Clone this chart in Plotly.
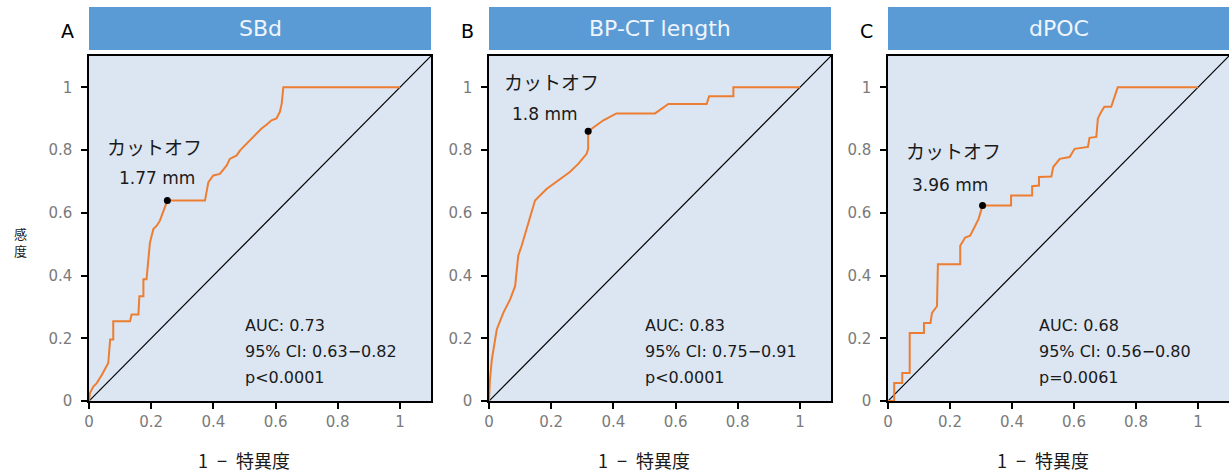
import plotly.graph_objects as go

# ---- data ----
panel_letters = ["A", "B", "C"]
panel_titles = ["SBd", "BP-CT length", "dPOC"]

fpr_a = [0, 0.003, 0.014, 0.025, 0.041, 0.051, 0.062, 0.068, 0.078, 0.078, 0.132, 0.137, 0.159, 0.162, 0.175, 0.175,
         0.185, 0.196, 0.207, 0.218, 0.228, 0.252, 0.373, 0.384, 0.400, 0.421, 0.443, 0.453, 0.475, 0.486, 0.507,
         0.523, 0.539, 0.555, 0.571, 0.587, 0.603, 0.614, 0.620, 0.625, 1.0]
tpr_a = [0, 0.025, 0.046, 0.057, 0.083, 0.099, 0.121, 0.196, 0.196, 0.254, 0.254, 0.276, 0.276, 0.334, 0.334, 0.388,
         0.388, 0.505, 0.548, 0.559, 0.575, 0.639, 0.639, 0.698, 0.719, 0.724, 0.751, 0.772, 0.783, 0.799, 0.821,
         0.837, 0.853, 0.869, 0.881, 0.895, 0.901, 0.922, 0.949, 1.0, 1.0]

fpr_b = [0, 0.001, 0.003, 0.009, 0.025, 0.046, 0.068, 0.084, 0.094, 0.105, 0.121, 0.148, 0.185, 0.228, 0.260, 0.287,
         0.314, 0.319, 0.319, 0.368, 0.410, 0.534, 0.577, 0.700, 0.708, 0.786, 0.786, 1.0]
tpr_b = [0, 0.057, 0.067, 0.131, 0.228, 0.281, 0.324, 0.366, 0.463, 0.495, 0.548, 0.639, 0.676, 0.708, 0.730, 0.756,
         0.788, 0.804, 0.860, 0.895, 0.917, 0.917, 0.947, 0.947, 0.972, 0.972, 1.0, 1.0]

fpr_c = [0, 0.020, 0.020, 0.046, 0.046, 0.070, 0.070, 0.116, 0.116, 0.137, 0.142, 0.158, 0.161, 0.233, 0.233, 0.249,
         0.265, 0.281, 0.292, 0.305, 0.397, 0.397, 0.465, 0.465, 0.487, 0.487, 0.527, 0.533, 0.554, 0.586, 0.602,
         0.645, 0.650, 0.672, 0.677, 0.688, 0.698, 0.720, 0.741, 1.0]
tpr_c = [0, 0.0, 0.057, 0.057, 0.089, 0.089, 0.217, 0.217, 0.249, 0.249, 0.281, 0.302, 0.436, 0.436, 0.495, 0.521,
         0.527, 0.559, 0.580, 0.623, 0.623, 0.655, 0.655, 0.685, 0.687, 0.714, 0.716, 0.746, 0.772, 0.778, 0.804,
         0.810, 0.839, 0.842, 0.901, 0.922, 0.938, 0.938, 1.0, 1.0]

cutoff_fpr = [0.252, 0.319, 0.305]
cutoff_tpr = [0.639, 0.860, 0.623]
cutoff_labels = ["1.77 mm", "1.8 mm", "3.96 mm"]
auc_text = ["AUC: 0.73", "AUC: 0.83", "AUC: 0.68"]
ci_text = ["95% CI: 0.63−0.82", "95% CI: 0.75−0.91", "95% CI: 0.56−0.80"]
p_text = ["p<0.0001", "p<0.0001", "p=0.0061"]

tick_vals = [0, 0.2, 0.4, 0.6, 0.8, 1]
tick_text = ["0", "0.2", "0.4", "0.6", "0.8", "1"]

# ---- layout geometry ----
W, H = 1229, 472
px_left = [89, 489, 888]
px_w = 342
ydom = [(H - 401) / H, (H - 56) / H]

ORANGE = "#ED7D31"
BG = "#DCE6F2"
BAR = "#5B9BD5"
LATIN = "DejaVu Sans, sans-serif"
JP = "Noto Sans CJK JP, sans-serif"

fig = go.Figure()
layout = dict(width=W, height=H, margin=dict(l=0, r=0, t=0, b=0, autoexpand=False),
              paper_bgcolor="white", showlegend=False, shapes=[], annotations=[])

fprs = [fpr_a, fpr_b, fpr_c]
tprs = [tpr_a, tpr_b, tpr_c]
cut_label_pos = [((0.21, 0.81), (0.22, 0.71)), ((0.20, 1.02), (0.18, 0.915)), ((0.21, 0.80), (0.20, 0.69))]
stat_x = [0.495, 0.495, 0.48]

for i in range(3):
    sfx = "" if i == 0 else str(i + 1)
    xa, ya = "x" + sfx, "y" + sfx
    x0 = px_left[i] / W
    x1 = min((px_left[i] + px_w) / W, 1.0)
    common = dict(range=[0, 1.1], tickvals=tick_vals, ticktext=tick_text, ticks="outside", ticklen=6,
                  tickcolor="black", tickwidth=1.5, showline=True, linecolor="black",
                  linewidth=1.5, mirror=True, showgrid=False, zeroline=False, automargin=False,
                  tickfont=dict(family=LATIN, size=15, color="#7a7a7a"))
    layout["xaxis" + sfx] = dict(domain=[x0, x1], anchor=ya, **common)
    layout["yaxis" + sfx] = dict(domain=ydom, anchor=xa, ticklabelstandoff=6, **common)
    # plot background
    layout["shapes"].append(dict(type="rect", xref=xa + " domain", yref=ya + " domain",
                                 x0=0, x1=1, y0=0, y1=1, fillcolor=BG, line=dict(width=0), layer="below"))
    # title bar
    layout["shapes"].append(dict(type="rect", xref="paper", yref="paper", x0=x0, x1=x1,
                                 y0=(H - 50) / H, y1=(H - 7) / H, fillcolor=BAR, line=dict(width=0)))
    layout["annotations"].append(dict(text=panel_titles[i], xref="paper", yref="paper",
                                      x=(x0 + x1) / 2, y=(H - 29) / H, showarrow=False,
                                      font=dict(family=LATIN, size=22, color="#EEF5FC"),
                                      xanchor="center", yanchor="middle"))
    layout["annotations"].append(dict(text=panel_letters[i], xref="paper", yref="paper",
                                      x=(px_left[i] - 22) / W, y=(H - 31) / H, showarrow=False,
                                      font=dict(family=LATIN, size=19, color="black"),
                                      xanchor="center", yanchor="middle"))
    # diagonal
    fig.add_trace(go.Scatter(x=[0, 1.1], y=[0, 1.1], mode="lines", xaxis=xa, yaxis=ya,
                             line=dict(color="black", width=1.2), hoverinfo="skip"))
    # ROC
    fig.add_trace(go.Scatter(x=fprs[i], y=tprs[i], mode="lines", xaxis=xa, yaxis=ya,
                             line=dict(color=ORANGE, width=2)))
    # cutoff point
    fig.add_trace(go.Scatter(x=[cutoff_fpr[i]], y=[cutoff_tpr[i]], mode="markers", xaxis=xa, yaxis=ya,
                             marker=dict(color="black", size=7)))
    (cx1, cy1), (cx2, cy2) = cut_label_pos[i]
    layout["annotations"].append(dict(text="カットオフ", xref=xa, yref=ya, x=cx1, y=cy1, showarrow=False,
                                      font=dict(family=JP, size=19, color="#1a1a1a"),
                                      xanchor="center", yanchor="middle"))
    layout["annotations"].append(dict(text=cutoff_labels[i], xref=xa, yref=ya, x=cx2, y=cy2, showarrow=False,
                                      font=dict(family=LATIN, size=17, color="#1a1a1a"),
                                      xanchor="center", yanchor="middle"))
    for k, t in enumerate([auc_text[i], ci_text[i], p_text[i]]):
        layout["annotations"].append(dict(text=t, xref=xa, yref=ya, x=stat_x[i], y=0.24 - k * 0.083,
                                          showarrow=False, font=dict(family=LATIN, size=16, color="#1a1a1a"),
                                          xanchor="left", yanchor="middle"))
    # x axis title
    layout["annotations"].append(dict(text="1\u2002−\u2002特異度", xref=xa, yref="paper", x=0.5, y=(H - 460) / H,
                                      showarrow=False, font=dict(family=JP, size=18, color="#1a1a1a"),
                                      xanchor="center", yanchor="middle"))

# y axis title (stacked vertical)
layout["annotations"].append(dict(text="感<br>度", xref="paper", yref="paper", x=20 / W, y=(H - 242) / H,
                                  showarrow=False, font=dict(family=JP, size=13, color="#1a1a1a"),
                                  xanchor="center", yanchor="middle"))

fig.update_layout(**layout)
fig.write_html("out.html", config={"displayModeBar": False},
               post_script="document.body.style.margin='0';document.body.style.overflow='hidden';")
